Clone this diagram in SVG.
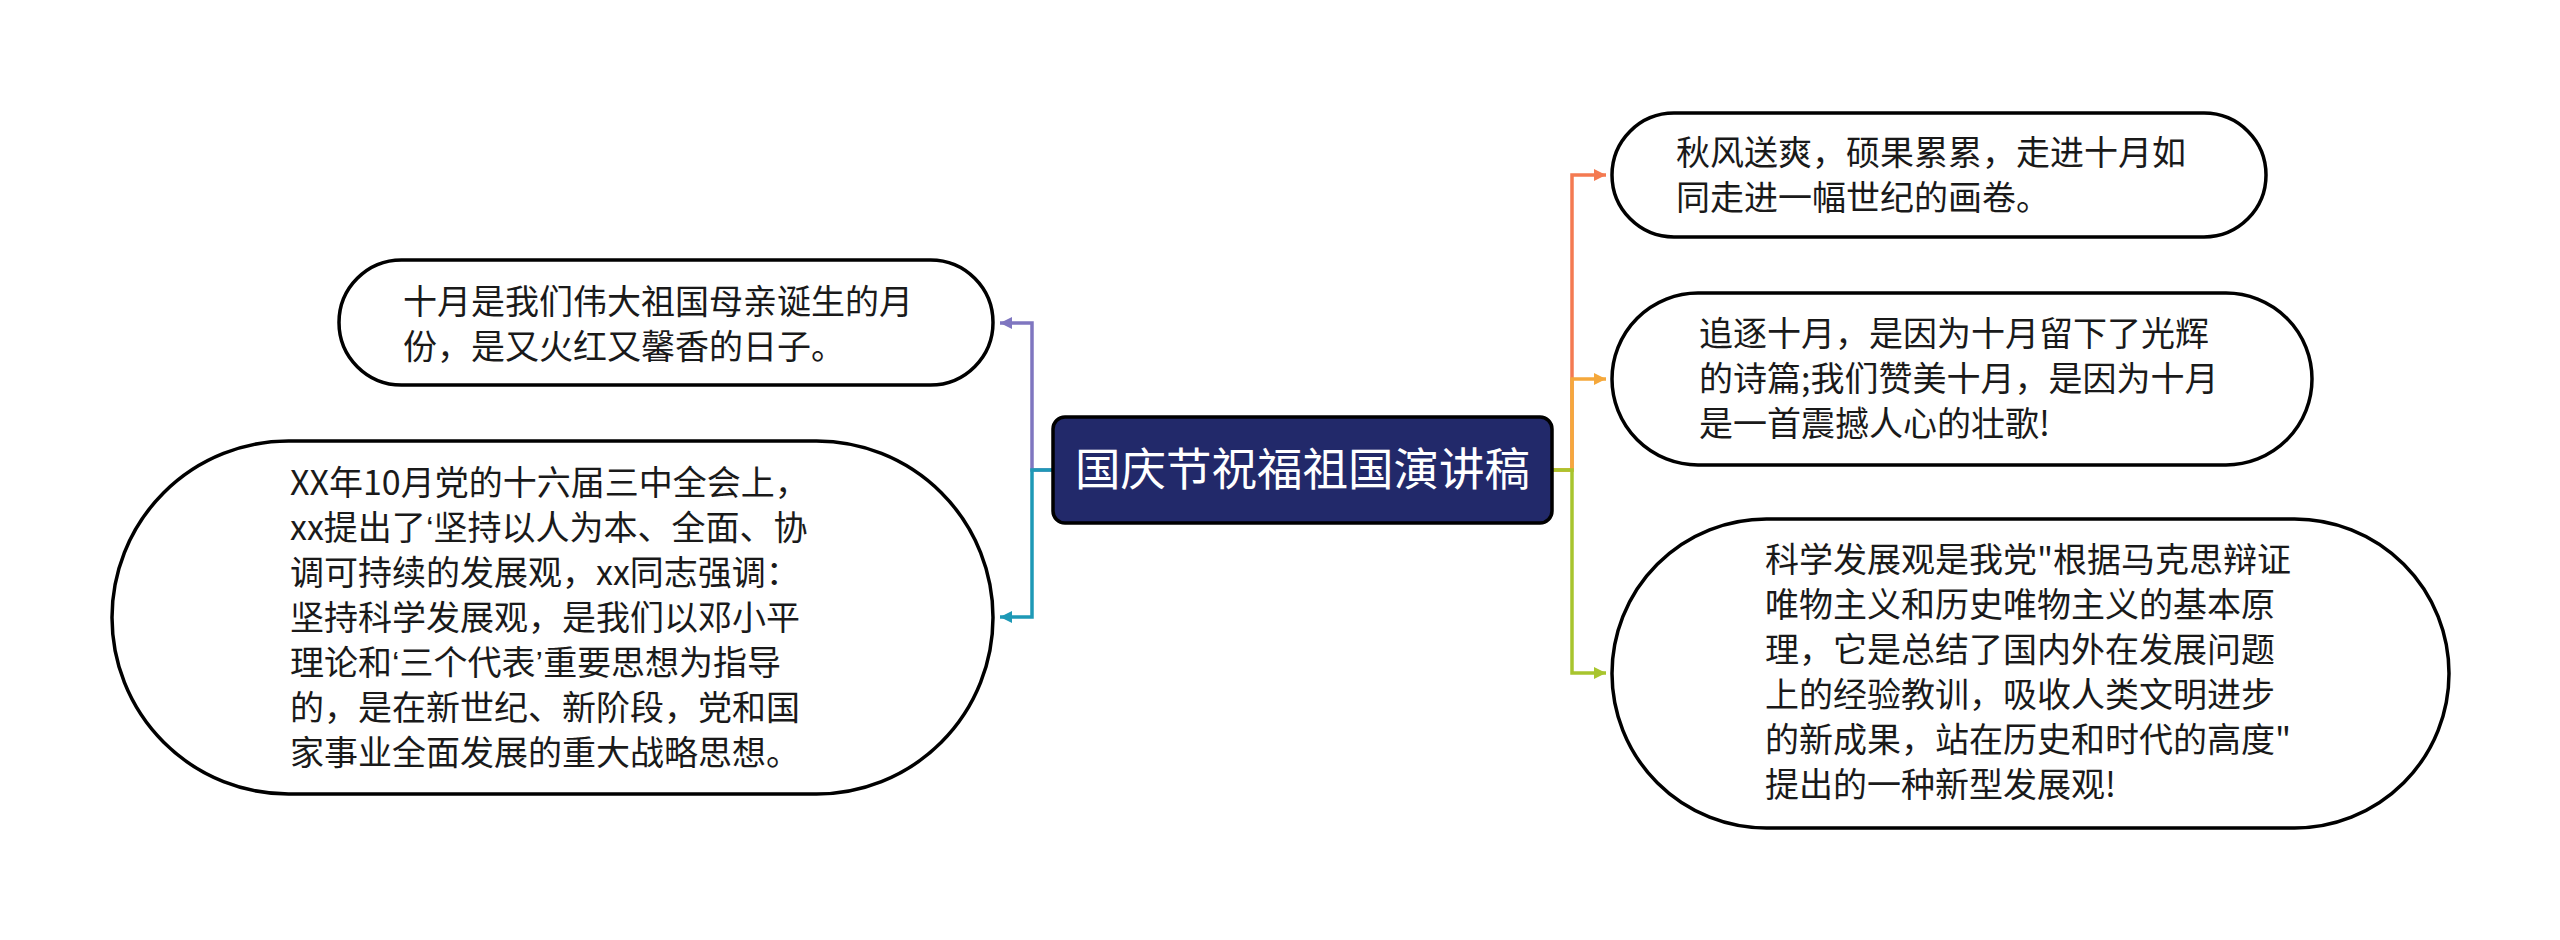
<svg xmlns="http://www.w3.org/2000/svg" width="2560" height="940" viewBox="0 0 2560 940">
  <style>
    .node { fill: #ffffff; stroke: #000000; stroke-width: 3.5; }
    .txt { font-family: "Noto Sans CJK SC", "Noto Sans", sans-serif; font-size: 34px; fill: #1a1a1a; }
    .q { font-family: "Liberation Sans", "Noto Sans", sans-serif; }
    .title { font-family: "Noto Sans CJK SC", "Noto Sans", sans-serif; font-size: 45.5px; fill: #ffffff; }
    .conn { fill: none; stroke-width: 3.5; }
  </style>
  <defs>
    <marker id="a-purple" markerUnits="userSpaceOnUse" markerWidth="14" markerHeight="14" refX="12" refY="6" orient="auto"><path d="M0,0 L12,6 L0,12 z" fill="#7f76c0"/></marker>
    <marker id="a-teal" markerUnits="userSpaceOnUse" markerWidth="14" markerHeight="14" refX="12" refY="6" orient="auto"><path d="M0,0 L12,6 L0,12 z" fill="#1e99b6"/></marker>
    <marker id="a-orange" markerUnits="userSpaceOnUse" markerWidth="14" markerHeight="14" refX="12" refY="6" orient="auto"><path d="M0,0 L12,6 L0,12 z" fill="#f47a51"/></marker>
    <marker id="a-yellow" markerUnits="userSpaceOnUse" markerWidth="14" markerHeight="14" refX="12" refY="6" orient="auto"><path d="M0,0 L12,6 L0,12 z" fill="#f5a83b"/></marker>
    <marker id="a-green" markerUnits="userSpaceOnUse" markerWidth="14" markerHeight="14" refX="12" refY="6" orient="auto"><path d="M0,0 L12,6 L0,12 z" fill="#a8c52e"/></marker>
  </defs>
  <rect width="2560" height="940" fill="#ffffff"/>

  <g id="connectors">
    <path class="conn" stroke="#7f76c0" d="M1053,470 H1032 V323 H1000" marker-end="url(#a-purple)"/>
    <path class="conn" stroke="#1e99b6" d="M1053,470 H1032 V617 H1000" marker-end="url(#a-teal)"/>
    <path class="conn" stroke="#f47a51" d="M1552,470 H1572 V175 H1606" marker-end="url(#a-orange)"/>
    <path class="conn" stroke="#f5a83b" d="M1552,470 H1572 V379 H1606" marker-end="url(#a-yellow)"/>
    <path class="conn" stroke="#a8c52e" d="M1552,470 H1572 V673 H1606" marker-end="url(#a-green)"/>
  </g>

  <g id="center">
    <rect x="1053" y="417" width="499" height="106" rx="12" ry="12" fill="#22296a" stroke="#000000" stroke-width="3.5"/>
    <text class="title" x="1302.5" y="486" text-anchor="middle">国庆节祝福祖国演讲稿</text>
  </g>

  <g id="node-left-1">
    <rect class="node" x="339" y="260" width="654" height="125" rx="62.5" ry="62.5"/>
    <text class="txt" x="403" y="314">十月是我们伟大祖国母亲诞生的月</text>
    <text class="txt" x="403" y="359">份，是又火红又馨香的日子。</text>
  </g>

  <g id="node-left-2">
    <rect class="node" x="112" y="441" width="881" height="353" rx="176.5" ry="176.5"/>
    <text class="txt" x="290" y="495">XX年10月党的十六届三中全会上，</text>
    <text class="txt" x="290" y="540">xx提出了<tspan class="q">‘</tspan>坚持以人为本、全面、协</text>
    <text class="txt" x="290" y="585">调可持续的发展观，xx同志强调：</text>
    <text class="txt" x="290" y="630">坚持科学发展观，是我们以邓小平</text>
    <text class="txt" x="290" y="675">理论和<tspan class="q">‘</tspan>三个代表<tspan class="q">’</tspan>重要思想为指导</text>
    <text class="txt" x="290" y="720">的，是在新世纪、新阶段，党和国</text>
    <text class="txt" x="290" y="765">家事业全面发展的重大战略思想。</text>
  </g>

  <g id="node-right-1">
    <rect class="node" x="1612" y="113" width="654" height="124" rx="62" ry="62"/>
    <text class="txt" x="1676" y="165">秋风送爽，硕果累累，走进十月如</text>
    <text class="txt" x="1676" y="210">同走进一幅世纪的画卷。</text>
  </g>

  <g id="node-right-2">
    <rect class="node" x="1612" y="293" width="700" height="172" rx="86" ry="86"/>
    <text class="txt" x="1699" y="346">追逐十月，是因为十月留下了光辉</text>
    <text class="txt" x="1699" y="391">的诗篇;我们赞美十月，是因为十月</text>
    <text class="txt" x="1699" y="436">是一首震撼人心的壮歌!</text>
  </g>

  <g id="node-right-3">
    <rect class="node" x="1612" y="519" width="837" height="309" rx="154.5" ry="154.5"/>
    <text class="txt" x="1765" y="572">科学发展观是我党"根据马克思辩证</text>
    <text class="txt" x="1765" y="617">唯物主义和历史唯物主义的基本原</text>
    <text class="txt" x="1765" y="662">理，它是总结了国内外在发展问题</text>
    <text class="txt" x="1765" y="707">上的经验教训，吸收人类文明进步</text>
    <text class="txt" x="1765" y="752">的新成果，站在历史和时代的高度"</text>
    <text class="txt" x="1765" y="797">提出的一种新型发展观!</text>
  </g>
</svg>
